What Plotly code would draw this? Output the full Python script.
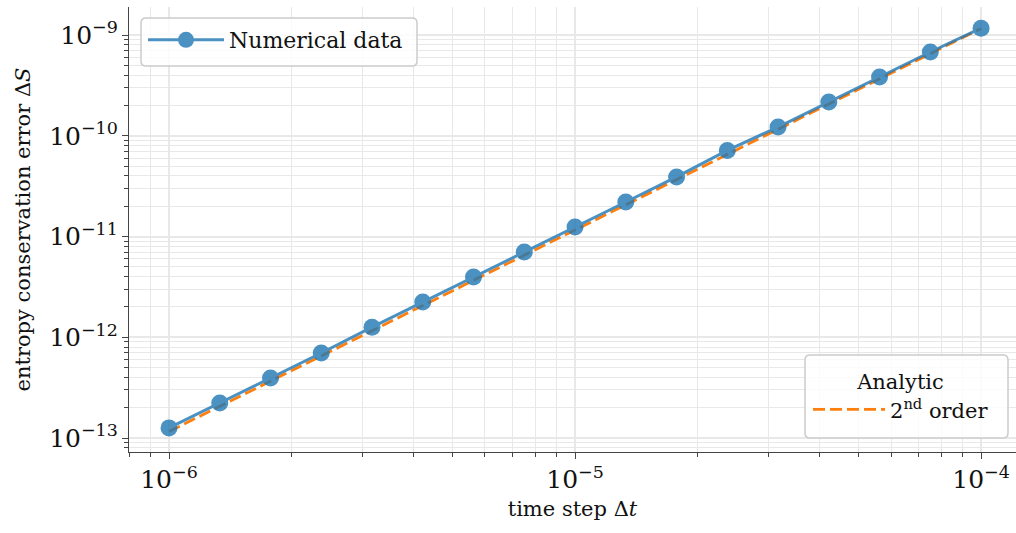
import plotly.graph_objects as go

# Data
dt = [1e-6 * 10 ** (k / 8) for k in range(17)]
dS = [1.26e-13, 2.22e-13, 3.94e-13, 6.98e-13, 1.26e-12, 2.24e-12, 3.96e-12, 7.02e-12,
      1.24e-11, 2.20e-11, 3.90e-11, 7.15e-11, 1.22e-10, 2.16e-10, 3.83e-10, 6.78e-10, 1.17e-9]
analytic_dt = [1e-6, 1e-4]
analytic_dS = [1.16e-13, 1.16e-9]

FONT = "DejaVu Serif, serif"
BLUE = "#1f77b4"
ORANGE = "#ff7f0e"
GRID = "#e8e8e8"
AXIS = "#444444"
TXT = "#111111"

W, H = 1016, 533
ML, MR, MT, MB = 129, 0, 7, 81
PW, PH = W - ML - MR, H - MT - MB


def px_x(p):
    return (p - ML) / PW


def px_y(p):
    return (H - MB - p) / PH


def rounded_box(x0, y0, x1, y1, r=5):
    rx, ry = r / PW, r / PH
    a, b, c, d = px_x(x0), px_y(y1), px_x(x1), px_y(y0)  # left, bottom, right, top
    path = (f"M{a+rx},{b} L{c-rx},{b} Q{c},{b} {c},{b+ry} L{c},{d-ry} Q{c},{d} {c-rx},{d} "
            f"L{a+rx},{d} Q{a},{d} {a},{d-ry} L{a},{b+ry} Q{a},{b} {a+rx},{b} Z")
    return dict(type="path", xref="paper", yref="paper", path=path, layer="above",
                fillcolor="rgba(255,255,255,0.8)", line=dict(color="#cccccc", width=1.5))


fig = go.Figure()
fig.add_trace(go.Scatter(
    x=analytic_dt, y=analytic_dS, mode="lines", name="2<sup>nd</sup> order",
    line=dict(color=ORANGE, width=2.8, dash="12px,5px"), legend="legend2"))
fig.add_trace(go.Scatter(
    x=dt, y=dS, mode="lines+markers", name="Numerical data",
    line=dict(color=BLUE, width=3), marker=dict(size=17, color=BLUE),
    opacity=0.8, legend="legend"))

axis_common = dict(
    type="log", dtick=1, exponentformat="power", showexponent="all",
    showgrid=True, gridcolor=GRID, gridwidth=1.5,
    showline=True, linecolor=AXIS, linewidth=1.2,
    ticks="outside", ticklen=6, tickwidth=1.2, tickcolor=AXIS,
    tickfont=dict(family=FONT, size=20, color=TXT),
    zeroline=False, automargin=False,
    minor=dict(dtick="D1", ticks="outside", ticklen=3.5, tickwidth=1, tickcolor=AXIS,
               showgrid=True, gridcolor=GRID, gridwidth=1.2),
)

fig.update_xaxes(**axis_common, range=[-6.0985, -3.914],
                 title=dict(text="time step Δ<i>t</i>", font=dict(family=FONT, size=21, color=TXT), standoff=8))
fig.update_yaxes(**axis_common, range=[-13.139, -8.722],
                 title=dict(text="entropy conservation error Δ<i>S</i>", font=dict(family=FONT, size=21, color=TXT), standoff=12))

fig.update_layout(
    width=W, height=H,
    margin=dict(l=ML, r=MR, t=MT, b=MB),
    plot_bgcolor="white", paper_bgcolor="white",
    showlegend=True,
    font=dict(family=FONT, size=21, color=TXT),
    shapes=[rounded_box(141, 18, 417, 66), rounded_box(805, 355, 1008, 438)],
    legend=dict(x=px_x(143), y=px_y(19), xanchor="left", yanchor="top",
                bgcolor="rgba(0,0,0,0)", borderwidth=0,
                font=dict(family=FONT, size=22, color=TXT), itemwidth=76),
    legend2=dict(x=px_x(808), y=px_y(362), xanchor="left", yanchor="top",
                 bgcolor="rgba(0,0,0,0)", borderwidth=0,
                 font=dict(family=FONT, size=21, color=TXT), itemwidth=72),
)
fig.update_layout(legend2_title=dict(text="Analytic", side="top center",
                                     font=dict(family=FONT, size=21, color=TXT)))

fig.write_html("out.html", config={"displayModeBar": False},
               post_script="document.body.style.margin='0';document.body.style.overflow='hidden';")
